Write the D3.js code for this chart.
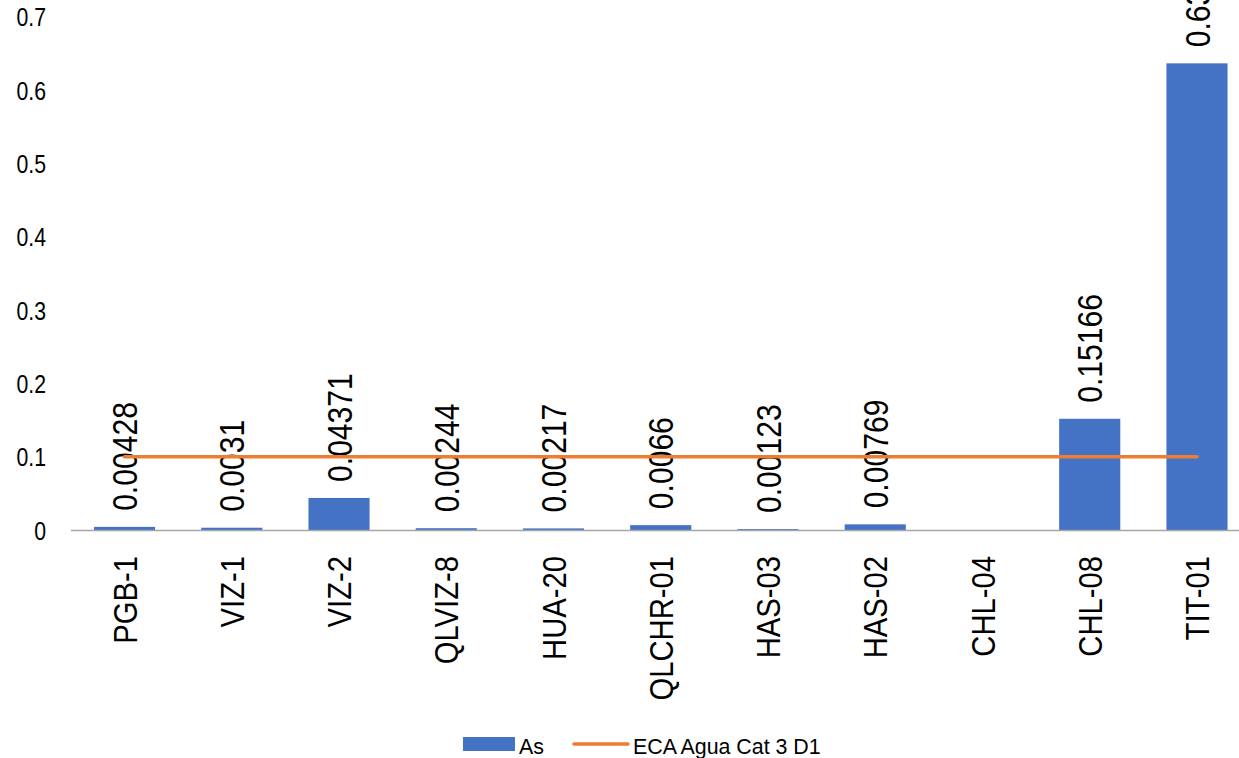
<!DOCTYPE html>
<html>
<head>
<meta charset="utf-8">
<script src="https://cdn.jsdelivr.net/npm/d3@7"></script>
<style>
  html, body { margin: 0; padding: 0; background: #fff; }
  svg { display: block; font-family: "Liberation Sans", Arial, sans-serif; }
</style>
</head>
<body>
<svg id="chart" width="1239" height="758"></svg>
<script>
const categories = ["PGB-1","VIZ-1","VIZ-2","QLVIZ-8","HUA-20","QLCHR-01","HAS-03","HAS-02","CHL-04","CHL-08","TIT-01"];
const asValues = [0.00428, 0.0031, 0.04371, 0.00244, 0.00217, 0.0066, 0.00123, 0.00769, null, 0.15166, 0.6364];
const ecaValues = [0.1, 0.1, 0.1, 0.1, 0.1, 0.1, 0.1, 0.1, 0.1, 0.1, 0.1];
const yTicks = [0, 0.1, 0.2, 0.3, 0.4, 0.5, 0.6, 0.7];
const seriesNames = ["As", "ECA Agua Cat 3 D1"];

const svg = d3.select("#chart");
const barColor = "#4472C4", lineColor = "#ED7D31";

const x = d3.scaleBand().domain(categories).range([70.9, 1250.6]).paddingInner(0.43).paddingOuter(0.215);
const y = d3.scaleLinear().domain([0, 0.7]).range([530, 16.7]);

// y tick labels (no axis line)
const yAxis = d3.axisLeft(y).tickValues(yTicks).tickSize(0).tickPadding(0).tickFormat(d => d === 0 ? "0" : d3.format(".1f")(d));
const gy = svg.append("g").attr("transform", "translate(46,0)").call(yAxis);
gy.select(".domain").remove();
gy.selectAll(".tick text")
  .attr("font-size", 25).attr("fill", "#000").attr("font-family", "Liberation Sans, Arial, sans-serif")
  .attr("dy", null)
  .attr("text-anchor", "end")
  .attr("x", 0).attr("y", 9)
  .attr("transform", "scale(0.85,1)");

// bars
svg.append("g").selectAll("rect")
  .data(categories.map((c, i) => ({c, v: asValues[i]})).filter(d => d.v != null))
  .join("rect")
  .attr("x", d => x(d.c)).attr("width", x.bandwidth())
  .attr("y", d => y(d.v)).attr("height", d => y(0) - y(d.v))
  .attr("fill", barColor);

// x axis baseline
svg.append("line").attr("x1", 71).attr("x2", 1239).attr("y1", y(0)+0.5).attr("y2", y(0)+0.5)
  .attr("stroke", "#a6a6a6").attr("stroke-width", 1.5);

// data labels
const dataFs = 35;
svg.append("g").selectAll("text")
  .data(categories.map((c, i) => ({c, v: asValues[i]})).filter(d => d.v != null))
  .join("text")
  .attr("transform", d => `translate(${x(d.c) + x.bandwidth()/2},${y(d.v) - 16}) rotate(-90) scale(0.86,1)`)
  .attr("x", 0).attr("y", dataFs * 0.358)
  .attr("font-size", dataFs).attr("fill", "#000")
  .text(d => String(d.v));

// ECA line
const line = d3.line().x((d, i) => x(categories[i]) + x.bandwidth()/2).y(d => y(d));
svg.append("path").datum(ecaValues).attr("d", line)
  .attr("fill", "none").attr("stroke", lineColor).attr("stroke-width", 3.5).attr("stroke-linecap", "round");

// x labels
const xFs = 34;
svg.append("g").selectAll("text")
  .data(categories).join("text")
  .attr("transform", d => `translate(${x(d) + x.bandwidth()/2},556) rotate(-90) scale(0.86,1)`)
  .attr("x", 0).attr("y", xFs * 0.358)
  .attr("text-anchor", "end")
  .attr("font-size", xFs).attr("fill", "#000")
  .text(d => d);

// legend
const lg = svg.append("g");
lg.append("rect").attr("x", 463).attr("y", 737).attr("width", 52).attr("height", 14).attr("fill", barColor);
lg.append("text").attr("transform", "translate(519,754) scale(0.93,1)").attr("font-size", 23).attr("fill", "#000").text(seriesNames[0]);
lg.append("line").attr("x1", 574).attr("x2", 628).attr("y1", 744).attr("y2", 744)
  .attr("stroke", lineColor).attr("stroke-width", 3.5).attr("stroke-linecap", "round");
lg.append("text").attr("transform", "translate(633,754) scale(0.93,1)").attr("font-size", 23).attr("fill", "#000").text(seriesNames[1]);
</script>
</body>
</html>
